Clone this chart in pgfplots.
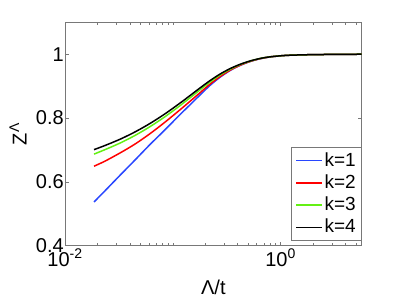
\documentclass[border=0pt]{standalone}
\usepackage{fontspec}
\setmainfont{Liberation Sans}
\usepackage{pgfplots}
\pgfplotsset{compat=1.18}
\definecolor{cblue}{RGB}{40,70,255}
\definecolor{cred}{RGB}{255,0,0}
\definecolor{cgreen}{RGB}{100,240,20}
\definecolor{axgray}{RGB}{120,120,120}
\pgfplotstableread{
x k1 k2 k3 k4
0.01858 0.5370 0.6490 0.6870 0.7010
0.02350 0.5720 0.6650 0.7010 0.7140
0.03236 0.6205 0.6905 0.7215 0.7335
0.04457 0.6684 0.7184 0.7454 0.7564
0.06143 0.7170 0.7510 0.7730 0.7830
0.08465 0.7632 0.7872 0.8042 0.8132
0.1166  0.8108 0.8258 0.8388 0.8468
0.1444  0.8414 0.8524 0.8634 0.8704
0.1788  0.8723 0.8793 0.8883 0.8943
0.2214  0.9023 0.9063 0.9128 0.9173
0.2741  0.9278 0.9298 0.9348 0.9378
0.3393  0.9488 0.9498 0.9528 0.9548
0.4201  0.9648 0.9653 0.9673 0.9683
0.5200  0.9770 0.9773 0.9783 0.9788
0.6439  0.9858 0.9859 0.9866 0.9866
0.7972  0.9915 0.9916 0.9918 0.9918
1.0985  0.9961 0.9961 0.9961 0.9961
1.514   0.9978 0.9978 0.9978 0.9978
2.321   0.9990 0.9990 0.9990 0.9990
5.65    1.0000 1.0000 1.0000 1.0000
}\data
\begin{document}
\fontsize{20}{24}\selectfont
\begin{tikzpicture}
\useasboundingbox (-65pt,-52.3pt) rectangle (334pt,245.7pt);
\begin{axis}[
  at={(0pt,0pt)}, anchor=south west,
  scale only axis, width=296.7pt, height=223.4pt,
  xmode=log, xmin=0.01, xmax=5.65,
  ymin=0.4, ymax=1.1,
  font=\fontsize{20}{24}\selectfont,
  /pgf/number format/assume math mode=true,
  axis line style={axgray, line width=0.8pt},
  every tick/.style={axgray, line width=0.6pt},
  major tick length=4pt, minor tick length=3pt,
  tick align=inside,
  xtick={0.01,1},
  xticklabels={10\textsuperscript{-2},10\textsuperscript{0}},
  minor xtick={0.02,0.03,0.04,0.05,0.06,0.07,0.08,0.09,0.1,0.2,0.3,0.4,0.5,0.6,0.7,0.8,0.9,2,3,4,5},
  ytick={0.4,0.6,0.8,1},
  yticklabels={0.4,0.6,0.8,1},
  xticklabel style={inner sep=1pt, yshift=-2pt},
  yticklabel style={inner sep=1pt},
  xlabel={Λ/t},
  ylabel={Z\textsuperscript{Λ}},
  xlabel style={at={(axis description cs:0.5,-0.185)}, anchor=center},
  ylabel style={at={(axis description cs:-0.158,0.5)}, anchor=center},
  legend style={at={(axis description cs:1,0.022)}, anchor=south east,
    draw=axgray, line width=0.8pt, inner xsep=4pt, inner ysep=3pt, row sep=2.5pt,
    font=\fontsize{19}{21}\selectfont, nodes={inner sep=1.5pt}},
  legend cell align=left,
  legend image code/.code={\draw[#1, line width=1.5pt] (0pt,0pt) -- (26pt,0pt);},
]
\addplot[cblue, line width=1.5pt, smooth] table[x=x, y=k1] {\data};
\addplot[cred, line width=1.5pt, smooth] table[x=x, y=k2] {\data};
\addplot[cgreen, line width=1.5pt, smooth] table[x=x, y=k3] {\data};
\addplot[black, line width=1.5pt, smooth] table[x=x, y=k4] {\data};
\legend{k=1,k=2,k=3,k=4}
\end{axis}
\end{tikzpicture}
\end{document}
